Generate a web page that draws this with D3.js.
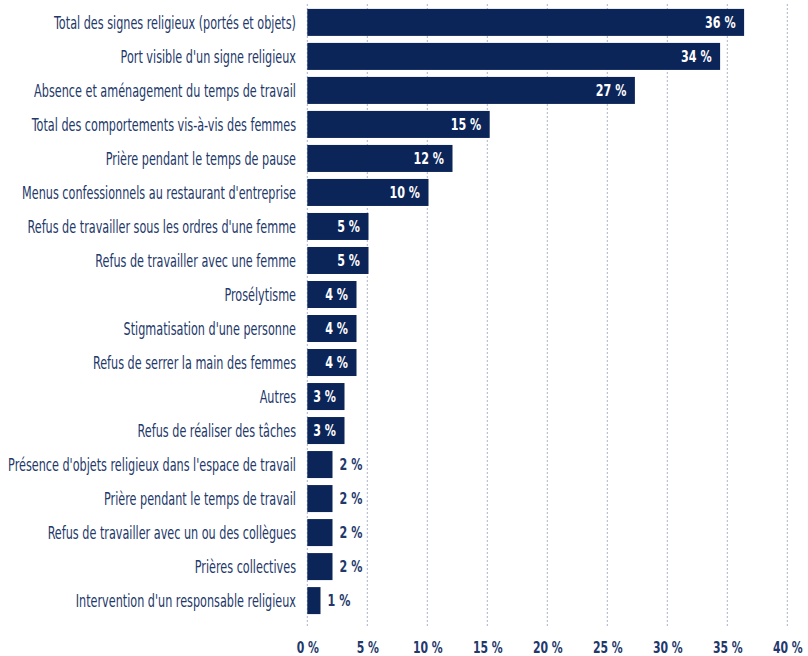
<!DOCTYPE html>
<html>
<head>
<meta charset="utf-8">
<script src="https://cdn.jsdelivr.net/npm/d3@7"></script>
<style>
  html, body { margin: 0; padding: 0; background: #ffffff; }
  svg { display: block; }
</style>
</head>
<body>
<svg id="chart" width="808" height="656"></svg>
<script>
const categories = [
  "Total des signes religieux (portés et objets)",
  "Port visible d'un signe religieux",
  "Absence et aménagement du temps de travail",
  "Total des comportements vis-à-vis des femmes",
  "Prière pendant le temps de pause",
  "Menus confessionnels au restaurant d'entreprise",
  "Refus de travailler sous les ordres d'une femme",
  "Refus de travailler avec une femme",
  "Prosélytisme",
  "Stigmatisation d'une personne",
  "Refus de serrer la main des femmes",
  "Autres",
  "Refus de réaliser des tâches",
  "Présence d'objets religieux dans l'espace de travail",
  "Prière pendant le temps de travail",
  "Refus de travailler avec un ou des collègues",
  "Prières collectives",
  "Intervention d'un responsable religieux"
];
const values = [36.4, 34.4, 27.3, 15.2, 12.1, 10.1, 5.1, 5.1, 4.1, 4.1, 4.1, 3.1, 3.1, 2.1, 2.1, 2.1, 2.1, 1.1];
const valueLabels = ["36 %", "34 %", "27 %", "15 %", "12 %", "10 %", "5 %", "5 %", "4 %", "4 %", "4 %", "3 %", "3 %", "2 %", "2 %", "2 %", "2 %", "1 %"];
const tickValues = [0, 5, 10, 15, 20, 25, 30, 35, 40];
const tickLabels = ["0 %", "5 %", "10 %", "15 %", "20 %", "25 %", "30 %", "35 %", "40 %"];

const barColor = "#0b2559";
const textColor = "#23386a";
const gridColor = "#a9b3cb";
const FONT = "'DejaVu Sans Condensed', 'DejaVu Sans', sans-serif";

const svg = d3.select("#chart");
const x = d3.scaleLinear().domain([0, 40]).range([307.3, 787.3]);
const y = d3.scaleBand().domain(categories).range([5.5, 617.5]).paddingInner(0.206).paddingOuter(0.1);

// grid
svg.append("g").selectAll("line").data(tickValues).join("line")
  .attr("x1", d => x(d)).attr("x2", d => x(d))
  .attr("y1", 4).attr("y2", 628)
  .attr("stroke", gridColor).attr("stroke-width", 1)
  .attr("stroke-dasharray", "2,2");

// bars
svg.append("g").selectAll("rect").data(values).join("rect")
  .attr("x", x(0))
  .attr("y", (d, i) => y(categories[i]))
  .attr("width", d => x(d) - x(0))
  .attr("height", y.bandwidth())
  .attr("fill", barColor);

// category labels
svg.append("g").selectAll("text").data(categories).join("text")
  .attr("transform", d => `translate(296,${y(d) + y.bandwidth() / 2 + 0.5}) scale(0.735,1)`)
  .attr("text-anchor", "end")
  .attr("dominant-baseline", "central")
  .attr("font-family", FONT)
  .attr("font-size", 17)
  .attr("fill", textColor)
  .text(d => d);

// value labels
svg.append("g").selectAll("text").data(values).join("text")
  .attr("transform", (d, i) => {
    const inside = d >= 3;
    const tx = inside ? x(d) - 8.5 : x(d) + 7;
    return `translate(${tx},${y(categories[i]) + y.bandwidth() / 2}) scale(0.8,1)`;
  })
  .attr("text-anchor", d => d >= 3 ? "end" : "start")
  .attr("dominant-baseline", "central")
  .attr("font-family", FONT)
  .attr("font-weight", "bold")
  .attr("font-size", 15.5)
  .attr("fill", d => d >= 3 ? "#ffffff" : textColor)
  .text((d, i) => valueLabels[i]);

// x axis labels
const axis = d3.axisBottom(x).tickValues(tickValues).tickSize(0).tickFormat((d, i) => tickLabels[i]);
const ax = svg.append("g").attr("transform", "translate(0,639)").call(axis);
ax.select(".domain").remove();
ax.selectAll("text")
  .attr("font-family", FONT)
  .attr("font-weight", "bold")
  .attr("font-size", 15.5)
  .attr("fill", textColor)
  .attr("transform", "scale(0.78,1)");
</script>
</body>
</html>
